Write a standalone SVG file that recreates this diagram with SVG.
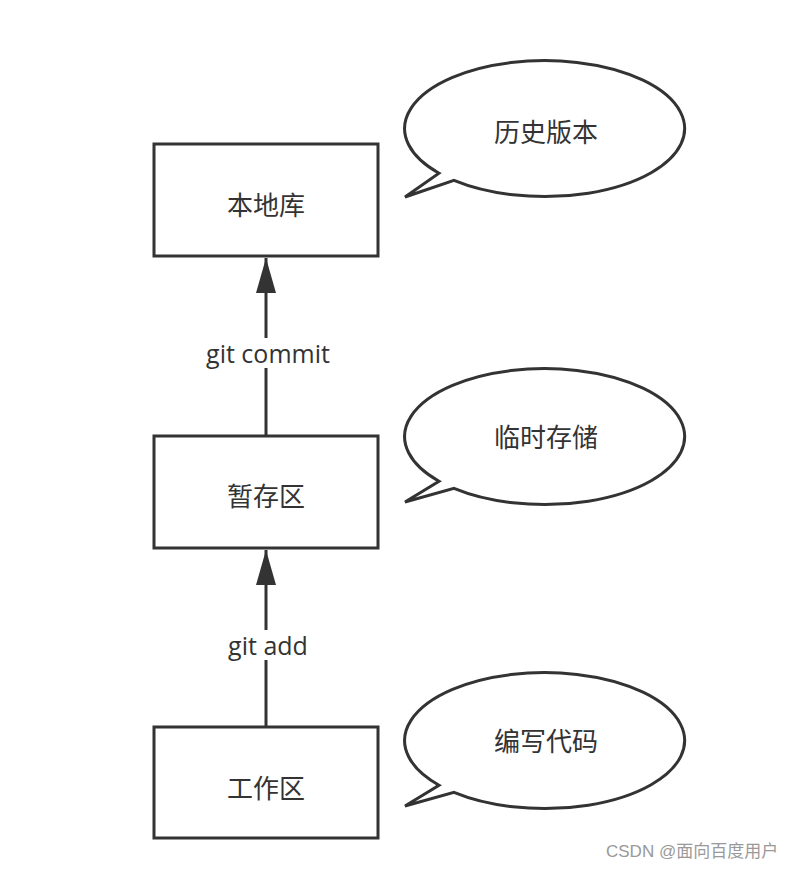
<svg xmlns="http://www.w3.org/2000/svg" width="811" height="869" viewBox="0 0 811 869">
<style>
.box{fill:#fff;stroke:#333;stroke-width:3}
.bub{fill:#fff;stroke:#333;stroke-width:3;stroke-linejoin:miter}
.t{font-family:"Liberation Sans","Noto Sans CJK SC",sans-serif;font-size:26px;fill:#333;text-anchor:middle;dominant-baseline:central}
.lbl{font-family:"Open Sans","Liberation Sans",sans-serif;font-size:25px;fill:#333;text-anchor:middle;dominant-baseline:central}
.edge{stroke:#333;stroke-width:3;fill:none}
.wm{font-family:"Liberation Sans","Noto Sans CJK SC",sans-serif;font-size:17px;fill:#999}
</style>
<rect width="811" height="869" fill="#fff"/>
<g id="edges">
<line class="edge" x1="266" y1="435" x2="266" y2="368"/>
<line class="edge" x1="266" y1="338" x2="266" y2="258"/>
<path d="M256,293 L266,258 L276,293 Z" fill="#333"/>
<text class="lbl" x="268" y="353">git commit</text>
<line class="edge" x1="266" y1="727" x2="266" y2="660"/>
<line class="edge" x1="266" y1="630" x2="266" y2="550"/>
<path d="M256,585 L266,550 L276,585 Z" fill="#333"/>
<text class="lbl" x="268" y="645">git add</text>
</g>
<g id="repo">
<rect class="box" x="154" y="144" width="224" height="112"/>
<text class="t" x="266" y="206">本地库</text>
</g>
<g id="stage">
<rect class="box" x="154" y="436" width="224" height="112"/>
<text class="t" x="266" y="497">暂存区</text>
</g>
<g id="work">
<rect class="box" x="154" y="727" width="224" height="111"/>
<text class="t" x="266" y="789">工作区</text>
</g>
<g id="bubble1">
<path class="bub" d="M454,180.4 A140,68 0 1 0 439,173.2 L405,197 Z"/>
<text class="t" x="546" y="133">历史版本</text>
</g>
<g id="bubble2">
<path class="bub" d="M454,488.4 A140,68 0 1 0 439,481.2 L405,502 Z"/>
<text class="t" x="546" y="438">临时存储</text>
</g>
<g id="bubble3">
<path class="bub" d="M454,792.4 A140,68 0 1 0 439,785.2 L405,806 Z"/>
<text class="t" x="546" y="742">编写代码</text>
</g>
<text class="wm" x="606" y="857">CSDN @面向百度用户</text>
</svg>
